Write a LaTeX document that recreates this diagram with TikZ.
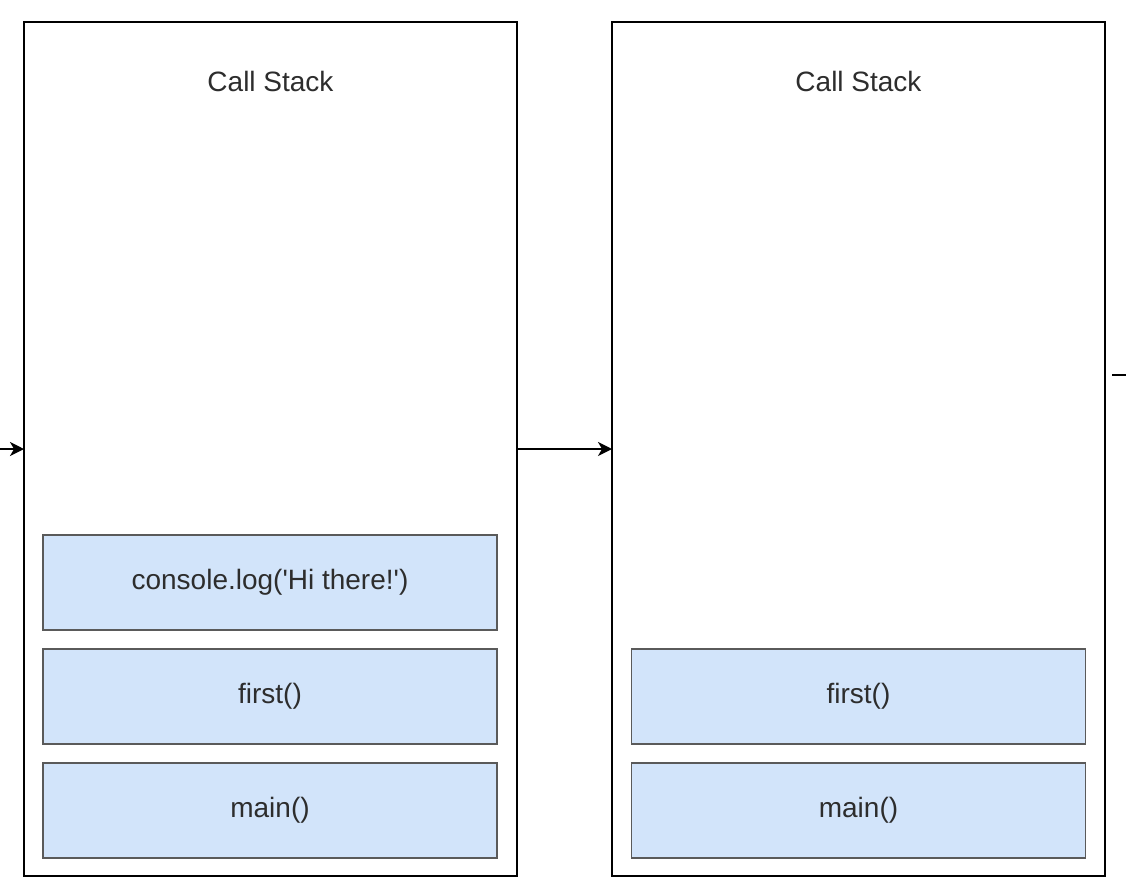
\documentclass[tikz,border=0pt]{standalone}
\usepackage{fontspec}
\newfontfamily\lsans{Liberation Sans}
\usetikzlibrary{arrows.meta}
\definecolor{frameblue}{RGB}{210,228,250}
\definecolor{framegray}{RGB}{90,90,90}
\definecolor{txtgray}{RGB}{45,45,45}
\tikzset{
  stackbox/.style={draw=black, line width=2.6pt, fill=white},
  framebox/.style={draw=framegray, line width=1.6pt, fill=frameblue, text=txtgray,
    font=\lsans\fontsize{28}{32}\selectfont, minimum width=454pt, minimum height=95pt, inner sep=0pt},
  stacktitle/.style={font=\lsans\fontsize{28}{32}\selectfont, text=txtgray},
  conn/.style={draw=black, line width=1.4pt, -{Stealth[length=14pt,width=14pt,inset=4pt]}},
}
\begin{document}
\begin{tikzpicture}[x=1pt,y=-1pt]
\useasboundingbox (0,0) rectangle (1126,894);
% left stack
\draw[stackbox] (24,22) rectangle (517,876);
\node[stacktitle] (t1) at (270.5,81) {Call Stack};
\node[framebox] (c1) at (270,582.5) {\raisebox{-3pt}{console.log('Hi there!')}};
\node[framebox] (f1) at (270,696.5) {\raisebox{-3pt}{first()}};
\node[framebox] (m1) at (270,810.5) {\raisebox{-3pt}{main()}};
% right stack
\draw[stackbox] (612,22) rectangle (1105,876);
\node[stacktitle] (t2) at (858.5,81) {Call Stack};
\node[framebox] (f2) at (858.5,696.5) {\raisebox{-3pt}{first()}};
\node[framebox] (m2) at (858.5,810.5) {\raisebox{-3pt}{main()}};
% connectors
\coordinate (inL) at (-2,449);
\coordinate (inE) at (24,449);
\coordinate (lR) at (517,449);
\coordinate (rL) at (612,449);
\coordinate (rR) at (1112,375);
\coordinate (outR) at (1128,375);
\draw[conn] (inL) -- (inE);
\draw[conn] (lR) -- (rL);
\draw[draw=black, line width=1.4pt] (rR) -- (outR);
\end{tikzpicture}
\end{document}
